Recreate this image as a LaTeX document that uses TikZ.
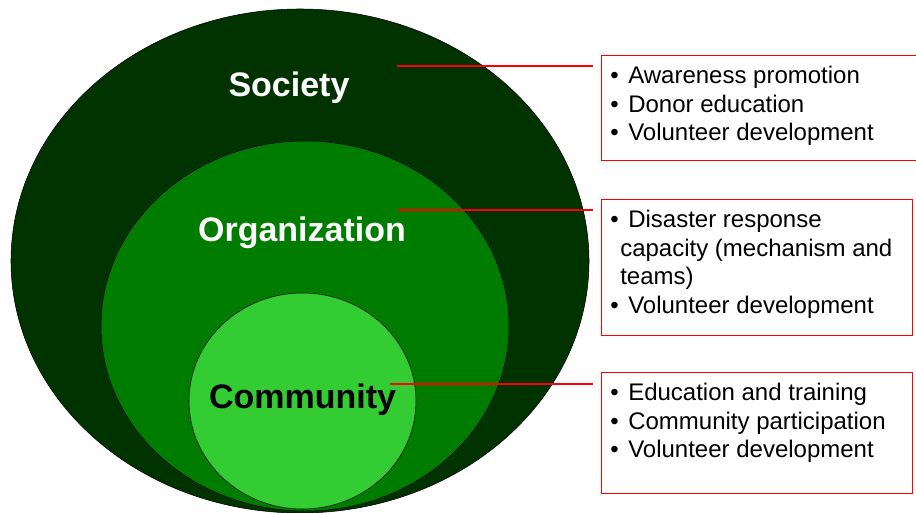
\documentclass[tikz,border=0pt]{standalone}
\usepackage{fontspec}
\setmainfont{Liberation Sans}
\usetikzlibrary{shapes.geometric,positioning}

\definecolor{socgreen}{RGB}{0,51,0}
\definecolor{orggreen}{RGB}{0,125,0}
\definecolor{comgreen}{RGB}{51,204,51}

\tikzset{
	ring/.style={draw=black,line width=0.4pt,ellipse,inner sep=0pt},
	title/.style={font=\bfseries\fontsize{25.5}{30}\selectfont,anchor=base},
	infobox/.style={draw=red,line width=0.8pt,anchor=north west,inner sep=0pt},
	infotext/.style={anchor=north west,inner sep=0pt,align=left,font=\fontsize{18}{21.4}\selectfont},
	leader/.style={red,line width=1pt,shorten >=6pt}
}
\newcommand{\bul}{\makebox[13.5pt][l]{•}}

\begin{document}
\begin{tikzpicture}[x=0.75pt,y=-0.75pt]
	\useasboundingbox (0,0) rectangle (916,513);
	
	% nested circles
	\node[ring,fill=socgreen,minimum width=433.5pt,minimum height=378pt] (soc) at (300,261) {};
	\node[ring,fill=orggreen,minimum width=306pt,minimum height=277.5pt] (org) at (305,326) {};
	\node[ring,fill=comgreen,minimum width=170.25pt,minimum height=162pt] (com) at (302.5,401) {};
	
	\node[title,white] (soctitle) at (289,97) {Society};
	\node[title,white] (orgtitle) at (302,242) {Organization};
	\node[title,black] (comtitle) at (302.5,408) {Community};
	
	% boxes on the right
	\node[infobox,minimum width=243pt,minimum height=78.75pt] (socbox) at (601,55) {};
	\node[infobox,minimum width=233.25pt,minimum height=102pt] (orgbox) at (601,199) {};
	\node[infobox,minimum width=233.25pt,minimum height=90.75pt] (combox) at (601,372) {};
	
	\node[infotext] (soclist) at (610,66) {\bul Awareness promotion\\\bul Donor education\\\bul Volunteer development};
	\node[infotext] (orglist) at (610,210) {\bul Disaster response\\\hspace*{7.5pt}capacity (mechanism and\\\hspace*{7.5pt}teams)\\\bul Volunteer development};
	\node[infotext] (comlist) at (610,383) {\bul Education and training\\\bul Community participation\\\bul Volunteer development};
	
	% leader lines
	\coordinate (socpt) at (397,66);
	\coordinate (orgpt) at (398,210);
	\coordinate (compt) at (390,384);
	\draw[leader] (socpt) -- (socpt -| socbox.west);
	\draw[leader] (orgpt) -- (orgpt -| orgbox.west);
	\draw[leader] (compt) -- (compt -| combox.west);
\end{tikzpicture}
\end{document}
